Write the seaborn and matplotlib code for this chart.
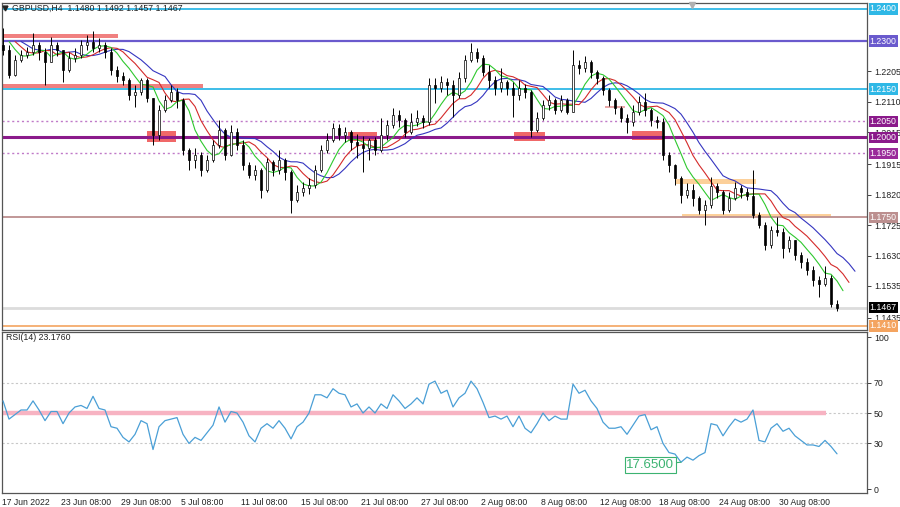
import numpy as np
import pandas as pd
import matplotlib
matplotlib.use("Agg")
import matplotlib.pyplot as plt
import matplotlib.transforms as mtransforms
import seaborn as sns

sns.set_style("white")
plt.rcParams["font.family"] = ["Liberation Sans", "DejaVu Sans"]

# GBPUSD H4 candles (coarse)
first_open = 1.2288
closes = [
    1.2272, 1.2194, 1.2241, 1.2256, 1.2266, 1.2288, 1.2266, 1.2234, 1.2288, 1.2272,
    1.2209, 1.2247, 1.2256, 1.2288, 1.2297, 1.2278, 1.2288, 1.2266, 1.2209, 1.2191,
    1.2178, 1.2131, 1.2141, 1.2178, 1.2122, 1.2006, 1.2085, 1.2116, 1.2141, 1.2116,
    1.1960, 1.1928, 1.1944, 1.1897, 1.1928, 1.1975, 1.2022, 1.1944, 1.2016, 1.1975,
    1.1913, 1.1882, 1.1897, 1.1835, 1.1922, 1.1897, 1.1928, 1.1891, 1.1803, 1.1828,
    1.1841, 1.1850, 1.1897, 1.1960, 1.1991, 1.2028, 1.2006, 1.2016, 1.1985, 1.1975,
    1.1966, 1.1991, 1.1960, 1.2006, 1.2038, 1.2069, 1.2053, 1.2016, 1.2047, 1.2060,
    1.2047, 1.2163, 1.2153, 1.2172, 1.2163, 1.2131, 1.2185, 1.2241, 1.2266, 1.2247,
    1.2203, 1.2178, 1.2153, 1.2172, 1.2153, 1.2131, 1.2153, 1.2141, 1.2022, 1.2060,
    1.2100, 1.2116, 1.2085, 1.2116, 1.2078, 1.2225, 1.2216, 1.2234, 1.2203, 1.2185,
    1.2147, 1.2116, 1.2091, 1.2060, 1.2047, 1.2078, 1.2110, 1.2085, 1.2053, 1.2047,
    1.1944, 1.1913, 1.1872, 1.1819, 1.1835, 1.1810, 1.1772, 1.1788, 1.1847, 1.1828,
    1.1772, 1.1810, 1.1841, 1.1828, 1.1816, 1.1757, 1.1725, 1.1663, 1.1710, 1.1704,
    1.1654, 1.1679, 1.1632, 1.1610, 1.1585, 1.1554, 1.1541, 1.1560, 1.1480, 1.1467,
]
highs = [
    1.2341, 1.2288, 1.2256, 1.2272, 1.2281, 1.2325, 1.2297, 1.2278, 1.2313, 1.2297,
    1.2266, 1.2266, 1.2278, 1.2303, 1.2319, 1.2331, 1.2309, 1.2297, 1.2278, 1.2222,
    1.2203, 1.2185, 1.2163, 1.2185, 1.2185, 1.2122, 1.2100, 1.2131, 1.2163, 1.2153,
    1.2122, 1.1966, 1.1966, 1.1953, 1.1944, 1.1991, 1.2053, 1.2028, 1.2038, 1.2028,
    1.1991, 1.1922, 1.1913, 1.1903, 1.1935, 1.1928, 1.1960, 1.1935, 1.1897, 1.1850,
    1.1860, 1.1872, 1.1913, 1.1975, 1.2013, 1.2044, 1.2041, 1.2031, 1.2022, 1.2010,
    1.2003, 1.1997, 1.2000, 1.2060, 1.2053, 1.2091, 1.2085, 1.2060, 1.2075, 1.2085,
    1.2069, 1.2185, 1.2185, 1.2191, 1.2185, 1.2178, 1.2203, 1.2256, 1.2294, 1.2278,
    1.2256, 1.2225, 1.2191, 1.2216, 1.2178, 1.2172, 1.2178, 1.2166, 1.2147, 1.2078,
    1.2116, 1.2131, 1.2122, 1.2131, 1.2122, 1.2272, 1.2241, 1.2253, 1.2241, 1.2209,
    1.2191, 1.2153, 1.2122, 1.2097, 1.2072, 1.2100, 1.2128, 1.2138, 1.2091, 1.2066,
    1.2060, 1.1953, 1.1916, 1.1878, 1.1857, 1.1853, 1.1816, 1.1803, 1.1875, 1.1857,
    1.1835, 1.1828, 1.1860, 1.1850, 1.1841, 1.1897, 1.1766, 1.1735, 1.1722, 1.1750,
    1.1716, 1.1691, 1.1679, 1.1641, 1.1622, 1.1597, 1.1566, 1.1597, 1.1569, 1.1492,
]
lows = [
    1.2256, 1.2185, 1.2190, 1.2234, 1.2247, 1.2256, 1.2241, 1.2163, 1.2234, 1.2253,
    1.2172, 1.2203, 1.2234, 1.2247, 1.2272, 1.2266, 1.2266, 1.2247, 1.2194, 1.2172,
    1.2163, 1.2116, 1.2094, 1.2131, 1.2110, 1.1975, 1.1991, 1.2078, 1.2110, 1.2091,
    1.1944, 1.1897, 1.1903, 1.1878, 1.1891, 1.1922, 1.1966, 1.1928, 1.1941, 1.1960,
    1.1897, 1.1872, 1.1866, 1.1810, 1.1828, 1.1878, 1.1885, 1.1866, 1.1763, 1.1797,
    1.1816, 1.1822, 1.1841, 1.1891, 1.1950, 1.1985, 1.1991, 1.1985, 1.1960, 1.1935,
    1.1891, 1.1928, 1.1944, 1.1953, 1.1991, 1.2028, 1.2031, 1.2000, 1.2010, 1.2035,
    1.2028, 1.2038, 1.2106, 1.2141, 1.2131, 1.2063, 1.2122, 1.2172, 1.2234, 1.2234,
    1.2191, 1.2153, 1.2131, 1.2141, 1.2131, 1.2063, 1.2116, 1.2122, 1.2000, 1.2016,
    1.2053, 1.2085, 1.2072, 1.2078, 1.2072, 1.2078, 1.2197, 1.2203, 1.2185, 1.2166,
    1.2131, 1.2097, 1.2072, 1.2047, 1.2013, 1.2035, 1.2069, 1.2066, 1.2035, 1.2028,
    1.1928, 1.1891, 1.1850, 1.1794, 1.1810, 1.1785, 1.1760, 1.1725, 1.1779, 1.1810,
    1.1760, 1.1766, 1.1803, 1.1810, 1.1803, 1.1747, 1.1716, 1.1647, 1.1654, 1.1691,
    1.1622, 1.1641, 1.1616, 1.1591, 1.1569, 1.1535, 1.1501, 1.1535, 1.1470, 1.1457,
]

# RSI(14) read at the same candle positions
rsi = [
    58, 46, 49, 52, 52, 58, 52, 45, 51, 51,
    43, 50, 54, 55, 53, 61, 53, 52, 41, 40,
    34, 31, 36, 45, 43, 26, 41, 45, 46, 47,
    36, 30, 34, 32, 37, 42, 54, 44, 51, 50,
    44, 35, 31, 40, 43, 40, 45, 40, 33, 41,
    44, 50, 62, 62, 60, 66, 63, 62, 54, 56,
    50, 54, 50, 56, 53, 62, 58, 53, 56, 60,
    56, 69, 71, 63, 65, 54, 60, 63, 71, 66,
    57, 47, 48, 46, 48, 41, 48, 40, 37, 43,
    50, 45, 48, 46, 46, 69, 63, 65, 58, 53,
    44, 40, 40, 41, 36, 42, 48, 49, 39, 41,
    30, 24, 23, 17.65, 21, 19, 22, 24, 43, 42,
    35, 41, 46, 44, 46, 52, 32, 31, 40, 43,
    38, 40, 35, 32, 29, 29, 28, 32, 28, 23.176,
]

# x tick positions (candle index) and labels
tick_pos = [-0.17, 9.67, 19.67, 29.67, 39.67, 49.67, 59.67, 69.67,
            79.67, 89.67, 99.5, 109.3, 119.3, 129.3]
tick_labels = ["17 Jun 2022", "23 Jun 08:00", "29 Jun 08:00", "5 Jul 08:00",
               "11 Jul 08:00", "15 Jul 08:00", "21 Jul 08:00", "27 Jul 08:00",
               "2 Aug 08:00", "8 Aug 08:00", "12 Aug 08:00", "18 Aug 08:00",
               "24 Aug 08:00", "30 Aug 08:00"]

price_ticks = [1.2205, 1.2110, 1.2015, 1.1915, 1.1820, 1.1725, 1.1630, 1.1535, 1.1435]

# horizontal levels: price, colour, width, style
levels = [
    (1.2400, "#2fb8e6", 1.3, "-"),
    (1.2300, "#6a5acd", 1.6, "-"),
    (1.2150, "#2fb8e6", 1.3, "-"),
    (1.2050, "#c07ac8", 1.0, (0, (1.5, 2))),
    (1.2000, "#8b1a8b", 2.2, "-"),
    (1.1950, "#c07ac8", 1.0, (0, (1.5, 2))),
    (1.1750, "#bc8f8f", 1.3, "-"),
    (1.1467, "#dcdcdc", 2.0, "-"),
    (1.1410, "#f4a460", 1.2, "-"),
]
# price tags on the right axis
tags = [
    (1.2400, "1.2400", "#2fb8e6"),
    (1.2300, "1.2300", "#6a5acd"),
    (1.2150, "1.2150", "#2fb8e6"),
    (1.2050, "1.2050", "#8b1a8b"),
    (1.2000, "1.2000", "#8b1a8b"),
    (1.1950, "1.1950", "#9a2a9a"),
    (1.1750, "1.1750", "#bc8f8f"),
    (1.1467, "1.1467", "#000000"),
    (1.1410, "1.1410", "#f4a460"),
]
# support / resistance zones: x from, x to (candle index), price low, price high, colour
zones = [
    (-0.5, 19.2, 1.2310, 1.2322, "#f08080"),
    (-0.5, 33.3, 1.2153, 1.2166, "#f08080"),
    (24.0, 28.8, 1.1985, 1.2019, "#f06868"),
    (57.5, 62.3, 1.1988, 1.2016, "#f06868"),
    (85.2, 90.3, 1.1988, 1.2016, "#f06868"),
    (104.8, 109.8, 1.1991, 1.2019, "#f06868"),
    (100.3, 103.7, 1.2092, 1.2097, "#e8a8a8"),
    (112.0, 125.5, 1.1855, 1.1868, "#fcd09a"),
    (113.2, 138.0, 1.1750, 1.1760, "#fcd09a"),
]

df = pd.DataFrame({"close": closes, "high": highs, "low": lows})
df["open"] = df["close"].shift(1).fillna(first_open)
df["high"] = df[["high", "open", "close"]].max(axis=1)
df["low"] = df[["low", "open", "close"]].min(axis=1)
df["idx"] = np.arange(len(df))

# Alligator (smoothed MAs of median price, shifted forward)
median = (df["high"] + df["low"]) / 2
gator = pd.DataFrame({
    "jaw": median.ewm(alpha=1 / 5.5, adjust=False).mean(),
    "teeth": median.ewm(alpha=1 / 3.7, adjust=False).mean(),
    "lips": median.ewm(alpha=1 / 2.5, adjust=False).mean(),
})
gator_style = [("jaw", 3, "#3535c0"), ("teeth", 2, "#d42a2a"), ("lips", 1, "#2ec82e")]

fig = plt.figure(figsize=(9, 5.07), dpi=100)
ax = fig.add_axes([2 / 900, 1 - 330 / 507, 865 / 900, 327 / 507])
ax2 = fig.add_axes([2 / 900, 1 - 493 / 507, 865 / 900, 161 / 507])

xlim = (-0.17, 144.0)
for a in (ax, ax2):
    a.set_xlim(*xlim)
    for s in a.spines.values():
        s.set_color("#555555")
        s.set_linewidth(0.9)
    a.yaxis.tick_right()
    a.tick_params(axis="y", direction="out", length=3, width=0.6,
                  labelsize=6.3, pad=2, colors="#222222")

ax.set_ylim(1.13975, 1.24187)

# zones
for x0, x1, p0, p1, col in zones:
    ax.fill_between([x0, x1], p0, p1, color=col, lw=0, zorder=1)

# levels
for p, col, lw, ls in levels:
    ax.axhline(p, color=col, lw=lw, ls=ls, zorder=2)

# alligator
for name, shift, col in gator_style:
    sns.lineplot(x=df["idx"] + shift, y=gator[name], ax=ax, color=col,
                 linewidth=0.8, zorder=3)

# candles
up = df["close"] >= df["open"]
ax.vlines(df["idx"], df["low"], df["high"], color="black", lw=0.7, zorder=4)
body = (df["close"] - df["open"]).abs().clip(lower=0.00025)
bottom = df[["open", "close"]].min(axis=1)
ax.bar(df["idx"][up], body[up], bottom=bottom[up], width=0.42,
       color="white", edgecolor="black", linewidth=0.5, zorder=5)
ax.bar(df["idx"][~up], body[~up], bottom=bottom[~up], width=0.42,
       color="black", edgecolor="black", linewidth=0.5, zorder=5)

ax.set_yticks(price_ticks)
ax.set_yticklabels([f"{v:.4f}" for v in price_ticks])
ax.set_xticks([])
ax.set_xlabel("")
ax.set_ylabel("")

blend = mtransforms.blended_transform_factory(ax.transAxes, ax.transData)
for p, txt, col in tags:
    ax.text(1.003, p, txt, transform=blend, ha="left", va="center", fontsize=6.3,
            color="white", clip_on=False, zorder=10,
            bbox=dict(boxstyle="square,pad=0.12", fc=col, ec="none"))

last = df.iloc[-1]
ax.text(0.012, 0.984,
        f"GBPUSD,H4  {last['open']:.4f} {last['high']:.4f} {last['low']:.4f} {last['close']:.4f}",
        transform=ax.transAxes, fontsize=6.3, color="#222222", va="center", zorder=10)
ax.plot([0.004], [0.984], marker="v", ms=3.5, color="#222222",
        transform=ax.transAxes, clip_on=False, zorder=10)
ax.plot([0.798], [0.995], marker="v", ms=5, color="#b0b0b0",
        transform=ax.transAxes, clip_on=False, zorder=10)

# RSI panel
ax2.set_ylim(-2.6, 103.3)
for lvl in (70, 50, 30):
    ax2.axhline(lvl, color="#c8c8c8", lw=0.8, ls=(0, (2, 2)), zorder=1)
ax2.plot([xlim[0], 137.2], [50, 50], color="#f7b3c2", lw=3.2, zorder=2,
         solid_capstyle="butt")
sns.lineplot(x=df["idx"], y=rsi, ax=ax2, color="#4a9fd6", linewidth=0.9, zorder=3)
ax2.set_yticks([0, 30, 50, 70, 100])
ax2.set_yticklabels(["0", "30", "50", "70", "100"])
ax2.set_xticks(tick_pos)
ax2.set_xticklabels(tick_labels, fontsize=6.2, color="#222222")
for lab in ax2.get_xticklabels():
    lab.set_horizontalalignment("left")
ax2.tick_params(axis="x", direction="out", length=2.5, width=0.6, pad=0.8)
ax2.set_xlabel("")
ax2.set_ylabel("")
ax2.text(0.005, 0.963, f"RSI(14) {rsi[-1]:.4f}", transform=ax2.transAxes,
         fontsize=6.3, color="#222222", va="center")

imin = int(np.argmin(rsi))
ax2.annotate(f"{rsi[imin]:.4f}", xy=(imin, rsi[imin]), xytext=(103.9, 15.8),
             fontsize=9.5, color="#3cb371", va="center", ha="left",
             bbox=dict(boxstyle="square,pad=0.12", fc="white", ec="#3cb371", lw=0.8),
             arrowprops=dict(arrowstyle="-", color="#3cb371", lw=0.8,
                             shrinkA=0, shrinkB=0))

fig.savefig("out.png", dpi=100, facecolor="white")
